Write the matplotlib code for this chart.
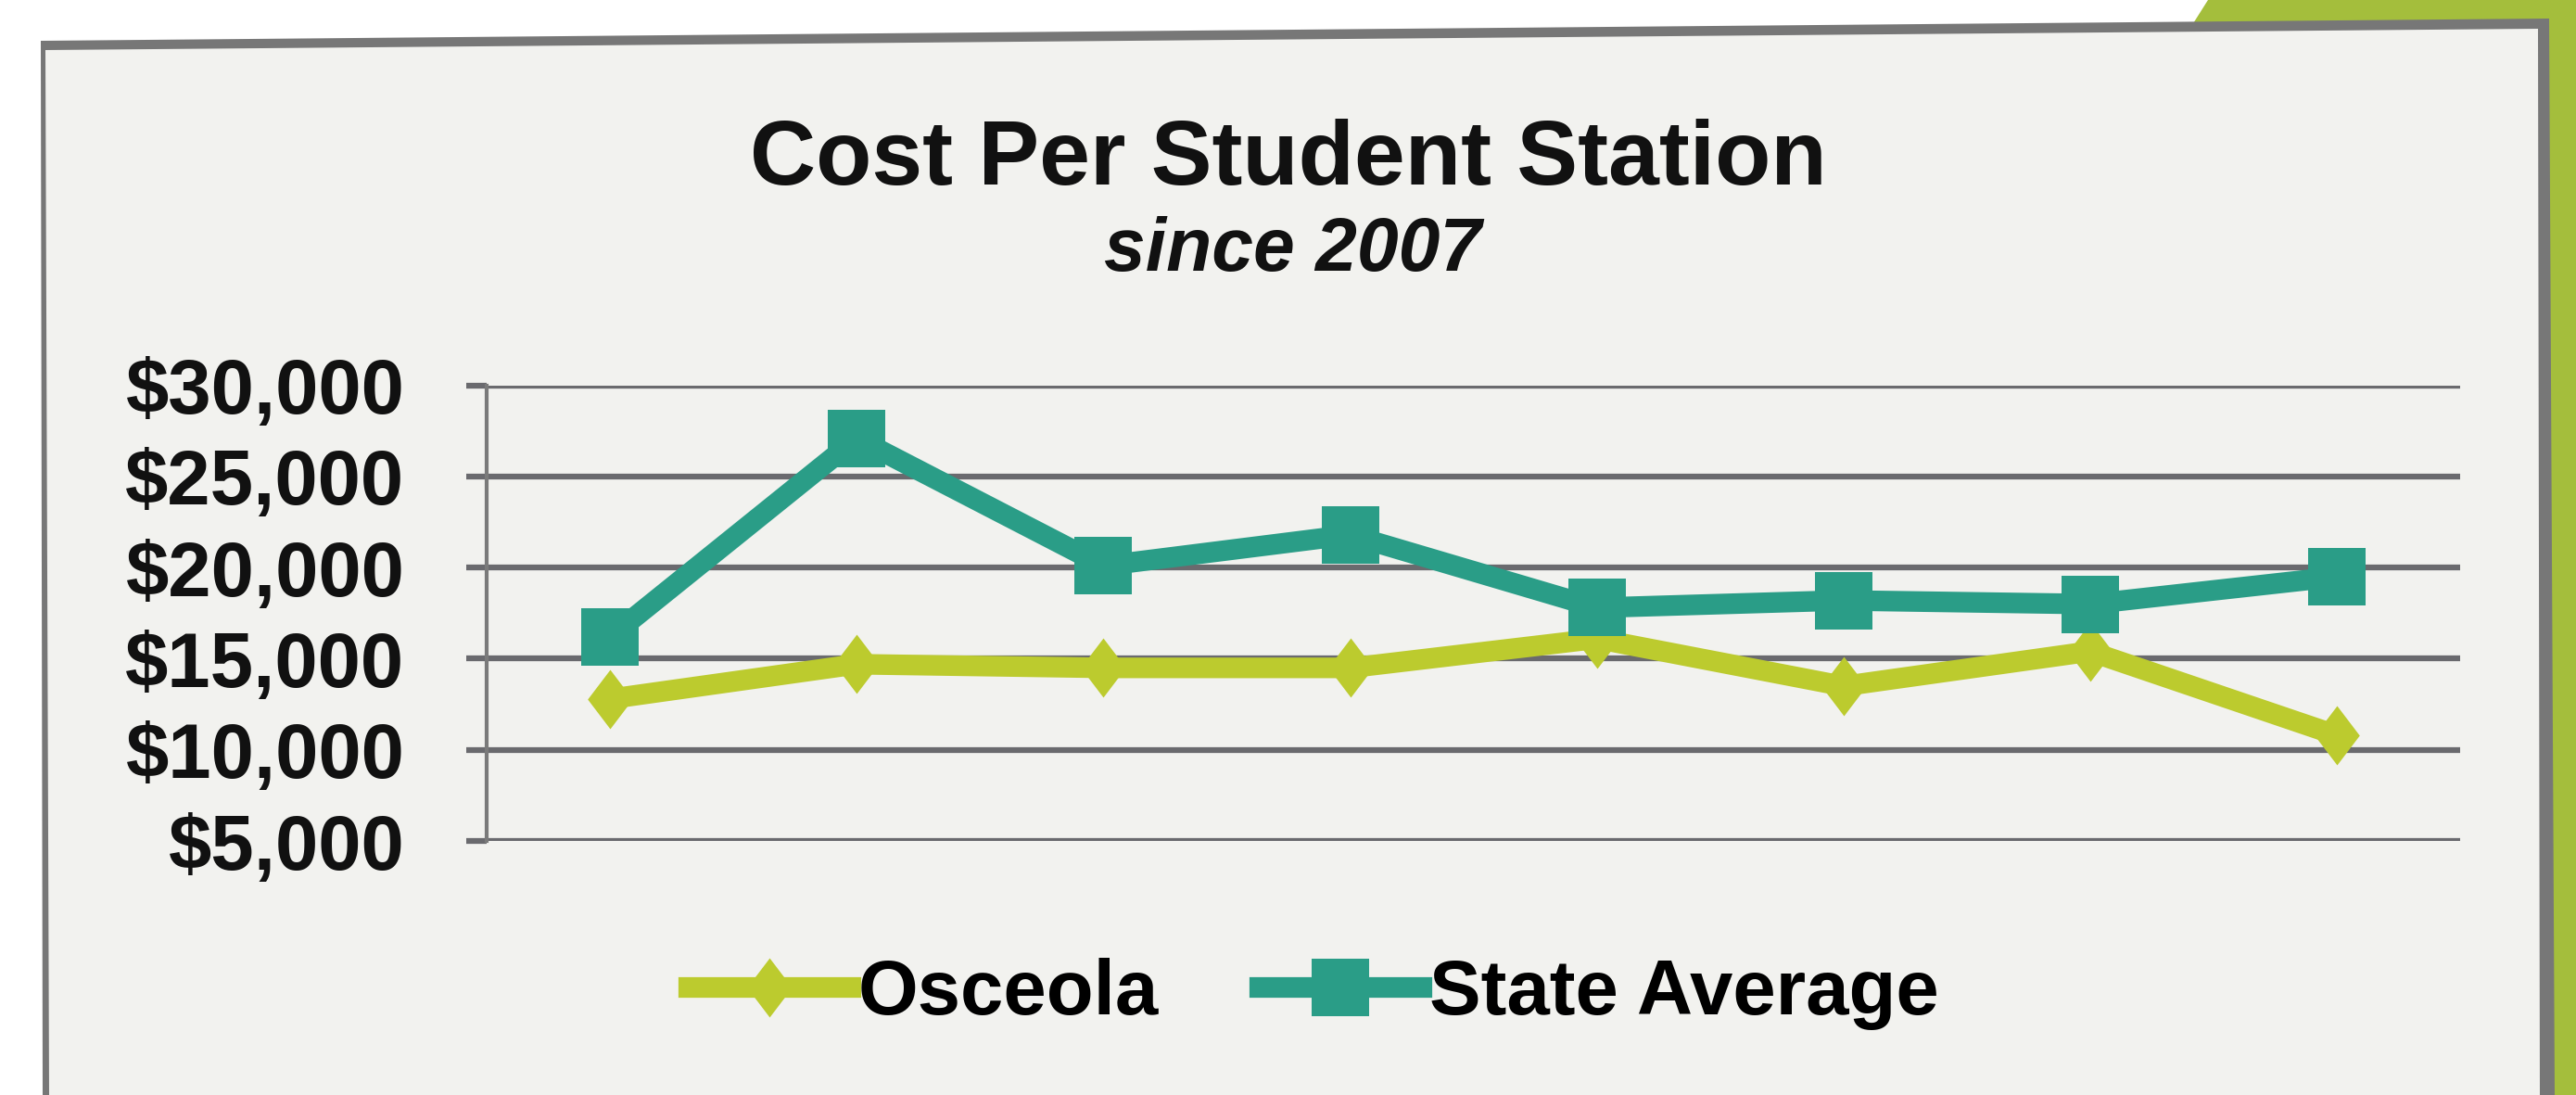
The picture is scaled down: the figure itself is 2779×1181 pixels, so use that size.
import matplotlib
matplotlib.use("Agg")
import matplotlib.pyplot as plt
from matplotlib.patches import Polygon
from matplotlib.ticker import FuncFormatter

# ---- data ----
years = ["2007", "2008", "2009", "2010", "2011", "2012", "2013", "2014"]
osceola = [12800, 14700, 14500, 14500, 16100, 13500, 15400, 10800]
state_average = [16200, 27100, 20100, 21800, 17800, 18200, 18000, 19500]
yticks = [5000, 10000, 15000, 20000, 25000, 30000]
series_names = ["Osceola", "State Average"]

W, H = 2779, 1181
plt.rcParams['font.family'] = ['Liberation Sans', 'DejaVu Sans']
fig = plt.figure(figsize=(W / 100, H / 100), dpi=100)
fig.patch.set_facecolor("white")

# ---- background: green corner and card ----
bg = fig.add_axes([0, 0, 1, 1], zorder=-5)
bg.set_xlim(0, W)
bg.set_ylim(H, 0)
bg.axis("off")
green = "#a4be3c"
bg.add_patch(Polygon([(2382, 0), (W, 0), (W, H), (2700, H), (2700, 30), (2363, 30)],
                     closed=True, facecolor=green, edgecolor="none"))
# shadow (top and right heavier, left thin)
bg.add_patch(Polygon([(44, 44), (2750, 20), (2756, H), (46, H)], closed=True,
                     facecolor="#777777", edgecolor="none"))
# card
bg.add_patch(Polygon([(49, 54), (2738, 31), (2740, H), (53, H)], closed=True,
                     facecolor="#f2f2ef", edgecolor="none"))

# ---- titles ----
fig.text(0.5, 1 - 199 / H, "Cost Per Student Station", ha="center", va="baseline",
         fontsize=71, fontweight="bold", color="#111111")
fig.text(0.502, 1 - 292 / H, "since 2007", ha="center", va="baseline",
         fontsize=58, fontweight="bold", fontstyle="italic", color="#111111")

# ---- main axes ----
ax = fig.add_axes([0.189, 0.232, 0.766, 0.416])
ax.set_facecolor("none")
x = list(range(len(years)))
teal = "#2a9d87"
lime = "#bccb2e"
diamond = [(0, 1), (0.76, 0), (0, -1), (-0.76, 0), (0, 1)]
l1, = ax.plot(x, osceola, color=lime, lw=16, marker=diamond, ms=46, mew=0,
              label=series_names[0], zorder=3, clip_on=False)
l2, = ax.plot(x, state_average, color=teal, lw=16, marker="s", ms=44, mew=0,
              label=series_names[1], zorder=4, clip_on=False)
ax.set_xlim(-0.5, len(years) - 0.5)
ax.set_ylim(5000, 30000)
ax.set_yticks(yticks)
ax.yaxis.set_major_formatter(FuncFormatter(lambda v, p: f"${int(v):,}"))
ax.set_xticks([])
ax.grid(axis="y", color="#6a6a6e", lw=4.5, zorder=1)
ax.set_axisbelow(True)
for s in ["top", "right", "bottom"]:
    ax.spines[s].set_visible(False)
ax.spines["left"].set_color("#7a7a7a")
ax.spines["left"].set_linewidth(3)
ax.tick_params(axis="y", length=16, width=4.5, color="#6a6a6e", pad=48,
               labelsize=60, labelcolor="#111111")
for t in ax.get_yticklabels():
    t.set_fontweight("bold")

leg = fig.legend(handles=[l1, l2], loc="center", bbox_to_anchor=(0.51, 1 - 1072 / H),
                 ncol=2, frameon=False, handlelength=2.1, handletextpad=0.1,
                 columnspacing=1.3, prop={"size": 60, "weight": "bold"})

fig.savefig("out.png", dpi=100, facecolor=fig.get_facecolor())
